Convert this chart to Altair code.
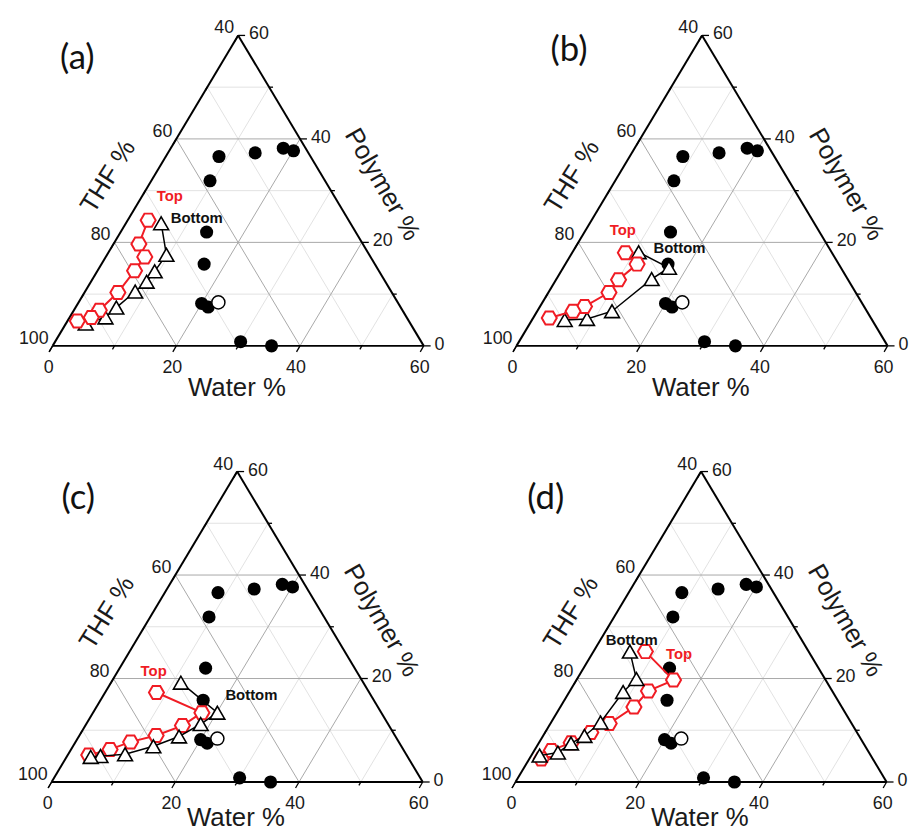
import altair as alt
import pandas as pd

# ---------------- data (compositions in %, THF = 100 - water - polymer) ----------------
binodal_water = [8.6, 14.1, 18.2, 20.1, 9.5, 13.9, 16.6, 20.0, 21.4, 30.0, 35.4]
binodal_polymer = [36.6, 37.3, 38.2, 37.7, 31.9, 22.0, 15.8, 8.2, 7.5, 0.8, 0.0]
open_water = [22.6]
open_polymer = [8.4]

a_top_water = [3.3, 4.1, 6.3, 6.0, 5.4, 4.1, 3.5, 1.6]
a_top_polymer = [24.3, 19.7, 17.2, 14.5, 10.3, 6.9, 5.5, 4.8]
a_bottom_water = [5.7, 9.6, 9.3, 9.0, 8.1, 6.6, 5.8, 3.2]
a_bottom_polymer = [23.7, 17.6, 14.4, 12.4, 10.5, 7.4, 5.5, 4.3]

b_top_water = [8.6, 11.6, 10.1, 9.8, 7.2, 5.8, 2.6]
b_top_polymer = [18.0, 15.8, 12.8, 10.3, 7.6, 6.7, 5.4]
b_bottom_water = [10.7, 17.1, 15.4, 12.1, 8.8, 5.3]
b_bottom_polymer = [18.1, 15.1, 12.9, 6.7, 5.2, 5.0]

c_top_water = [8.3, 17.6, 15.7, 12.4, 8.9, 6.3, 3.4]
c_top_polymer = [17.3, 13.4, 10.9, 9.0, 7.75, 6.3, 5.2]
c_bottom_water = [11.3, 20.1, 18.5, 16.2, 13.0, 9.2, 5.4, 3.9]
c_bottom_polymer = [19.2, 13.4, 11.2, 8.8, 6.9, 5.35, 5.0, 4.85]

d_top_water = [8.4, 15.7, 12.7, 11.9, 9.5, 7.4, 5.2, 2.75, 1.95]
d_top_polymer = [25.2, 19.7, 17.6, 14.5, 11.3, 9.55, 7.6, 6.1, 4.45]
d_bottom_water = [5.9, 9.6, 8.7, 8.0, 6.7, 5.25, 4.0, 1.35]
d_bottom_polymer = [25.2, 19.9, 17.4, 11.5, 8.9, 7.45, 5.7, 5.1]

panel_letters = ["(a)", "(b)", "(c)", "(d)"]
water_ticks = [0, 20, 40, 60]
thf_ticks = [100, 80, 60, 40]
polymer_ticks = [0, 20, 40, 60]
major_grid = [20, 40]
minor_grid = [10, 30, 50]
series_labels = ["Top", "Bottom"]

# ---------------- layout / style ----------------
SX = 6.24   # px per composition unit along the water axis
SY = 5.22   # px per polymer unit (vertical)
RED = "#f01c24"
TICK_FONT = "Liberation Sans"
HEX = "M-1,0L-0.5,-0.866L0.5,-0.866L1,0L0.5,0.866L-0.5,0.866Z"

# annotation anchors (cartesian units: x = water + polymer/2, y = polymer)
LETTER_POS = {"a": (4.0, 55.6), "b": (8.5, 57.2), "c": (4.3, 54.8), "d": (4.9, 54.9)}
LABEL_POS = {
    "a": [(4.5 + 14.45, 28.9), (10.9 + 12.4, 24.8)],
    "b": [(6.0 + 11.2, 22.4), (16.9 + 9.45, 18.9)],
    "c": [(5.8 + 10.7, 21.4), (23.9 + 8.4, 16.8)],
    "d": [(14.1 + 12.35, 24.7), (5.1 + 13.7, 27.4)],
}


def tern(w, p):
    return (w + p / 2.0, p)


def seg(rows, a, b, kind):
    rows.append({"x": a[0], "y": a[1], "x2": b[0], "y2": b[1], "kind": kind})


def frame_layers(xs, ys, water_dy):
    rows = []
    for v in minor_grid + major_grid:
        kind = "major" if v in major_grid else "minor"
        seg(rows, tern(0, v), tern(60 - v, v), kind)      # constant polymer
        seg(rows, tern(v, 0), tern(v, 60 - v), kind)      # constant water
        seg(rows, tern(v, 0), tern(0, v), kind)           # constant THF
    seg(rows, tern(0, 0), tern(60, 0), "edge")
    seg(rows, tern(0, 0), tern(0, 60), "edge")
    seg(rows, tern(60, 0), tern(0, 60), "edge")
    for v in sorted(water_ticks + minor_grid):
        L = 7 if v in water_ticks else 4
        s = tern(v, 0)
        seg(rows, s, (s[0] - 0.5 * L / SX, s[1] - 0.866 * L / SY), "tick")
        s = tern(0, v)
        seg(rows, s, (s[0] - 0.5 * L / SX, s[1] - 0.866 * L / SY), "tick")
        s = tern(60 - v, v)
        seg(rows, s, (s[0] + L / SX, s[1]), "tick")
    segs = pd.DataFrame(rows)

    def rule(kind, color, width):
        return alt.Chart(segs).transform_filter(alt.datum.kind == kind).mark_rule(
            color=color, strokeWidth=width
        ).encode(
            x=alt.X("x:Q", scale=xs, axis=None),
            y=alt.Y("y:Q", scale=ys, axis=None),
            x2="x2:Q",
            y2="y2:Q",
        )

    layers = [
        rule("minor", "#e2e2e2", 1),
        rule("major", "#a8a8a8", 1),
        rule("edge", "#000000", 2),
        rule("tick", "#000000", 1.3),
    ]

    bottom = pd.DataFrame(
        [{"x": tern(v, 0)[0], "y": 0.0, "t": str(v)} for v in water_ticks]
    )
    left = pd.DataFrame(
        [{"x": tern(0, 100 - t)[0], "y": 100.0 - t, "t": str(t)} for t in thf_ticks]
    )
    right = pd.DataFrame(
        [{"x": tern(60 - v, v)[0], "y": float(v), "t": str(v)} for v in polymer_ticks]
    )

    def tlabels(df, align, dx, dy):
        return alt.Chart(df).mark_text(
            align=align, baseline="middle", dx=dx, dy=dy, fontSize=18,
            font=TICK_FONT, color="#1a1a1a"
        ).encode(
            x=alt.X("x:Q", scale=xs, axis=None),
            y=alt.Y("y:Q", scale=ys, axis=None),
            text="t:N",
        )

    layers += [
        tlabels(bottom, "center", -4, 22),
        tlabels(left, "right", -4, -7),
        tlabels(right, "left", 11, -1),
    ]

    titles = pd.DataFrame([
        {"x": 29.8, "y": 0.0, "t": "Water %"},
    ])
    layers.append(
        alt.Chart(titles).mark_text(
            align="center", baseline="middle", dy=water_dy, fontSize=26,
            font=TICK_FONT, color="#1a1a1a"
        ).encode(
            x=alt.X("x:Q", scale=xs, axis=None),
            y=alt.Y("y:Q", scale=ys, axis=None),
            text="t:N",
        )
    )
    thf = pd.DataFrame([{"x": 9.0, "y": 32.7, "t": "THF %"}])
    layers.append(
        alt.Chart(thf).mark_text(
            align="center", baseline="middle", angle=302, fontSize=26,
            font=TICK_FONT, color="#1a1a1a"
        ).encode(
            x=alt.X("x:Q", scale=xs, axis=None),
            y=alt.Y("y:Q", scale=ys, axis=None),
            text="t:N",
        )
    )
    pol = pd.DataFrame([{"x": 53.3, "y": 31.2, "t": "Polymer %"}])
    layers.append(
        alt.Chart(pol).mark_text(
            align="center", baseline="middle", angle=60, fontSize=26,
            font=TICK_FONT, color="#1a1a1a"
        ).encode(
            x=alt.X("x:Q", scale=xs, axis=None),
            y=alt.Y("y:Q", scale=ys, axis=None),
            text="t:N",
        )
    )
    return layers


def comp_df(water, polymer):
    return pd.DataFrame({
        "i": list(range(len(water))),
        "water": water,
        "polymer": polymer,
        "thf": [100 - w - p for w, p in zip(water, polymer)],
    })


def points(df, xs, ys, **mark):
    return alt.Chart(df).transform_calculate(
        cx="datum.water + datum.polymer / 2", cy="datum.polymer"
    ).mark_point(opacity=1, **mark).encode(
        x=alt.X("cx:Q", scale=xs, axis=None),
        y=alt.Y("cy:Q", scale=ys, axis=None),
    )


def line(df, xs, ys, color, width):
    return alt.Chart(df).transform_calculate(
        cx="datum.water + datum.polymer / 2", cy="datum.polymer"
    ).mark_line(color=color, strokeWidth=width).encode(
        x=alt.X("cx:Q", scale=xs, axis=None),
        y=alt.Y("cy:Q", scale=ys, axis=None),
        order="i:Q",
    )


def panel(key, letter, top_w, top_p, bot_w, bot_p, width, height,
          left_off, top_off, water_dy, red_first):
    x0 = -left_off / SX
    x1 = x0 + width / SX
    y1 = 60 + top_off / SY
    y0 = y1 - height / SY
    xs = alt.Scale(domain=[x0, x1], nice=False, zero=False)
    ys = alt.Scale(domain=[y0, y1], nice=False, zero=False)

    layers = frame_layers(xs, ys, water_dy)

    layers.append(points(comp_df(binodal_water, binodal_polymer), xs, ys,
                         shape="circle", filled=True, color="#000000", size=175))
    layers.append(points(comp_df(open_water, open_polymer), xs, ys,
                         shape="circle", filled=True, fill="white",
                         stroke="#000000", strokeWidth=1.5, size=175))

    top = comp_df(top_w, top_p)
    bot = comp_df(bot_w, bot_p)
    red_layers = [
        line(top, xs, ys, RED, 2),
        points(top, xs, ys, shape=HEX, filled=True, fill="white",
               stroke=RED, strokeWidth=2, size=230),
    ]
    black_layers = [
        line(bot, xs, ys, "#000000", 1.5),
        points(bot, xs, ys, shape="triangle-up", filled=True, fill="white",
               stroke="#000000", strokeWidth=1.6, size=225),
    ]
    layers += (red_layers + black_layers) if red_first else (black_layers + red_layers)

    (tx, ty), (bx, by) = LABEL_POS[key]
    lab = pd.DataFrame([
        {"x": tx, "y": ty, "t": series_labels[0], "c": RED},
        {"x": bx, "y": by, "t": series_labels[1], "c": "#111111"},
    ])
    layers.append(
        alt.Chart(lab).mark_text(
            align="center", baseline="middle", fontSize=15, fontWeight="bold",
            font=TICK_FONT
        ).encode(
            x=alt.X("x:Q", scale=xs, axis=None),
            y=alt.Y("y:Q", scale=ys, axis=None),
            text="t:N",
            color=alt.Color("c:N", scale=None, legend=None),
        )
    )
    lx, ly = LETTER_POS[key]
    let = pd.DataFrame([{"x": lx, "y": ly, "t": letter}])
    layers.append(
        alt.Chart(let).mark_text(
            align="center", baseline="middle", fontSize=35, font="Lato",
            color="#111111"
        ).encode(
            x=alt.X("x:Q", scale=xs, axis=None),
            y=alt.Y("y:Q", scale=ys, axis=None),
            text="t:N",
        )
    )
    return alt.layer(*layers).properties(width=width, height=height)


LEFT_W, RIGHT_W = 440, 433
H1, H2 = 420, 393
pa = panel("a", panel_letters[0], a_top_water, a_top_polymer, a_bottom_water,
           a_bottom_polymer, LEFT_W, H1, 45, 24, 43, False)
pb = panel("b", panel_letters[1], b_top_water, b_top_polymer, b_bottom_water,
           b_bottom_polymer, RIGHT_W, H1, 44, 24, 43, False)
pc = panel("c", panel_letters[2], c_top_water, c_top_polymer, c_bottom_water,
           c_bottom_polymer, LEFT_W, H2, 44, 34, 36, True)
pd_ = panel("d", panel_letters[3], d_top_water, d_top_polymer, d_bottom_water,
            d_bottom_polymer, RIGHT_W, H2, 44, 34, 36, True)

row1 = alt.hconcat(pa, pb, spacing=28)
row2 = alt.hconcat(pc, pd_, spacing=28)
chart = alt.vconcat(row1, row2, spacing=10).properties(
    padding=0, background="white"
).configure_view(stroke=None)

chart.save("out.html", embed_options={"renderer": "svg", "actions": False})
